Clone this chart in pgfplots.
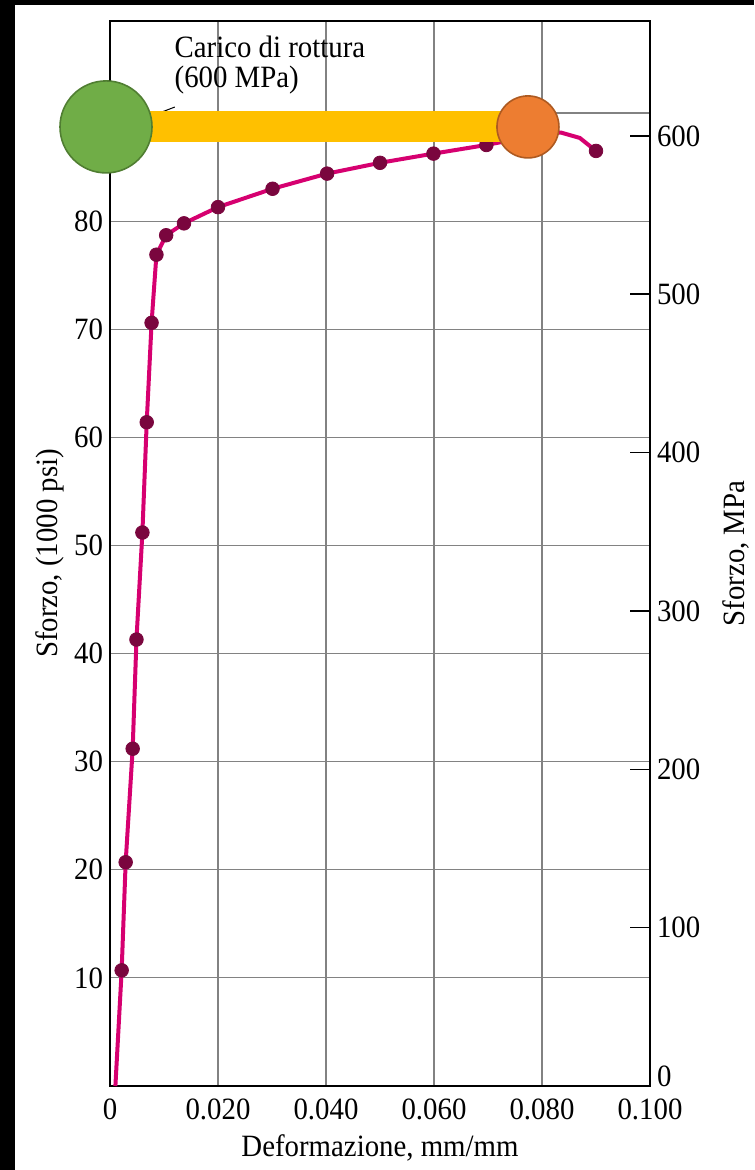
\documentclass[border=0pt]{standalone}
\usepackage{fontspec}
\setmainfont{Liberation Serif}[FakeStretch=0.93]
\usepackage{pgfplots}
\pgfplotsset{compat=1.18}
\definecolor{curvec}{RGB}{214,0,112}
\definecolor{dotc}{RGB}{122,6,62}
\definecolor{gridc}{RGB}{130,130,130}
\definecolor{gfill}{HTML}{70AD47}
\definecolor{gdraw}{HTML}{507E32}
\definecolor{ofill}{HTML}{ED7D31}
\definecolor{odraw}{HTML}{AE5A21}
\definecolor{barc}{HTML}{FFC000}
\newcommand{\fs}{\fontsize{15.5}{18}\selectfont}
\begin{document}
\begin{tikzpicture}
\useasboundingbox (-55pt,-42pt) rectangle (322pt,543pt);
\fill[black] (-55pt,-42pt) rectangle (-47.5pt,543pt);
\fill[black] (-55pt,540.5pt) rectangle (322pt,543pt);
\begin{axis}[
  at={(0,0)}, anchor=south west,
  scale only axis, width=270pt, height=532.5pt,
  xmin=0, xmax=0.1, ymin=0, ymax=98.52,
  xtick={0,0.02,0.04,0.06,0.08,0.1},
  xticklabels={0,0.020,0.040,0.060,0.080,0.100},
  ytick={10,20,30,40,50,60,70,80,90},
  yticklabels={10,20,30,40,50,60,70,80,90},
  grid=major,
  grid style={gridc, line width=0.6pt},
  major tick length=0pt,
  axis line style={black, line width=1pt},
  font=\fs,
  tick label style={font=\fs},
  label style={font=\fs},
  xticklabel style={anchor=base, yshift=-16.5pt},
  xlabel={Deformazione, mm/mm},
  xlabel style={at={(axis description cs:0.5,0)}, anchor=base, yshift=-35pt},
  ylabel={Sforzo, (1000 psi)},
  ylabel style={at={([xshift=-26pt]axis description cs:0,0.5)}, anchor=base},
  clip=false,
]
\addplot[curvec, line width=2pt] coordinates {
(0.0010,0) (0.00216,10.7) (0.0029,20.7) (0.0042,31.2) (0.0049,41.3)
(0.0060,51.2) (0.0068,61.4) (0.0077,70.6) (0.0086,76.9) (0.0104,78.7)
(0.0137,79.8) (0.0200,81.3) (0.0301,83.0) (0.0402,84.4) (0.0500,85.4)
(0.0599,86.25) (0.0697,87.05) (0.0795,88.0) (0.0835,88.2) (0.0870,87.7)
(0.0900,86.5)};
\addplot[only marks, mark=*, mark size=3.4pt, mark options={fill=dotc, draw=dotc}] coordinates {
(0.00216,10.7) (0.0029,20.7) (0.0042,31.2) (0.0049,41.3)
(0.0060,51.2) (0.0068,61.4) (0.0077,70.6) (0.0086,76.9) (0.0104,78.7)
(0.0137,79.8) (0.0200,81.3) (0.0301,83.0) (0.0402,84.4) (0.0500,85.4)
(0.0599,86.25) (0.0697,87.05) (0.0795,88.0) (0.0900,86.5)};
\addplot[black, line width=0.5pt] coordinates {(0.0096,90.1) (0.0120,90.56)};
\node[anchor=base west, inner sep=0pt, font=\fs] at (axis cs:0.0119,95.1) {Carico di rottura};
\node[anchor=base west, inner sep=0pt, font=\fs] at (axis cs:0.0119,92.4) {(600 MPa)};
\end{axis}
\begin{axis}[
  at={(0,0)}, anchor=south west,
  scale only axis, width=270pt, height=532.5pt,
  xmin=0, xmax=0.1, ymin=0, ymax=672.6,
  axis x line=none, xtick=\empty,
  axis y line*=right,
  axis line style={black, line width=1pt},
  ytick={100,200,300,400,500,600},
  yticklabels={100,200,300,400,500,600},
  extra y ticks={0}, extra y tick labels={0},
  extra y tick style={major tick length=0pt, yticklabel style={yshift=5pt}},
  tick align=inside, major tick length=10pt,
  tick style={black, line width=0.8pt},
  font=\fs,
  tick label style={font=\fs},
  label style={font=\fs},
  ylabel={Sforzo, MPa},
  ylabel style={at={([xshift=47pt]axis description cs:1,0.5)}, anchor=base},
]
\end{axis}
\begin{axis}[
  at={(0,0)}, anchor=south west,
  scale only axis, width=270pt, height=532.5pt,
  xmin=0, xmax=0.1, ymin=0, ymax=98.52,
  hide axis, clip=false,
]
\addplot[barc, line width=15.5pt, line cap=butt] coordinates {(-0.00074,88.72) (0.0774,88.72)};
\addplot[only marks, mark=*, mark size=23pt, mark options={fill=gfill, draw=gdraw, line width=0.8pt}] coordinates {(-0.00074,88.72)};
\addplot[only marks, mark=*, mark size=15.5pt, mark options={fill=ofill, draw=odraw, line width=0.8pt}] coordinates {(0.0774,88.72)};
\end{axis}
\end{tikzpicture}
\end{document}
